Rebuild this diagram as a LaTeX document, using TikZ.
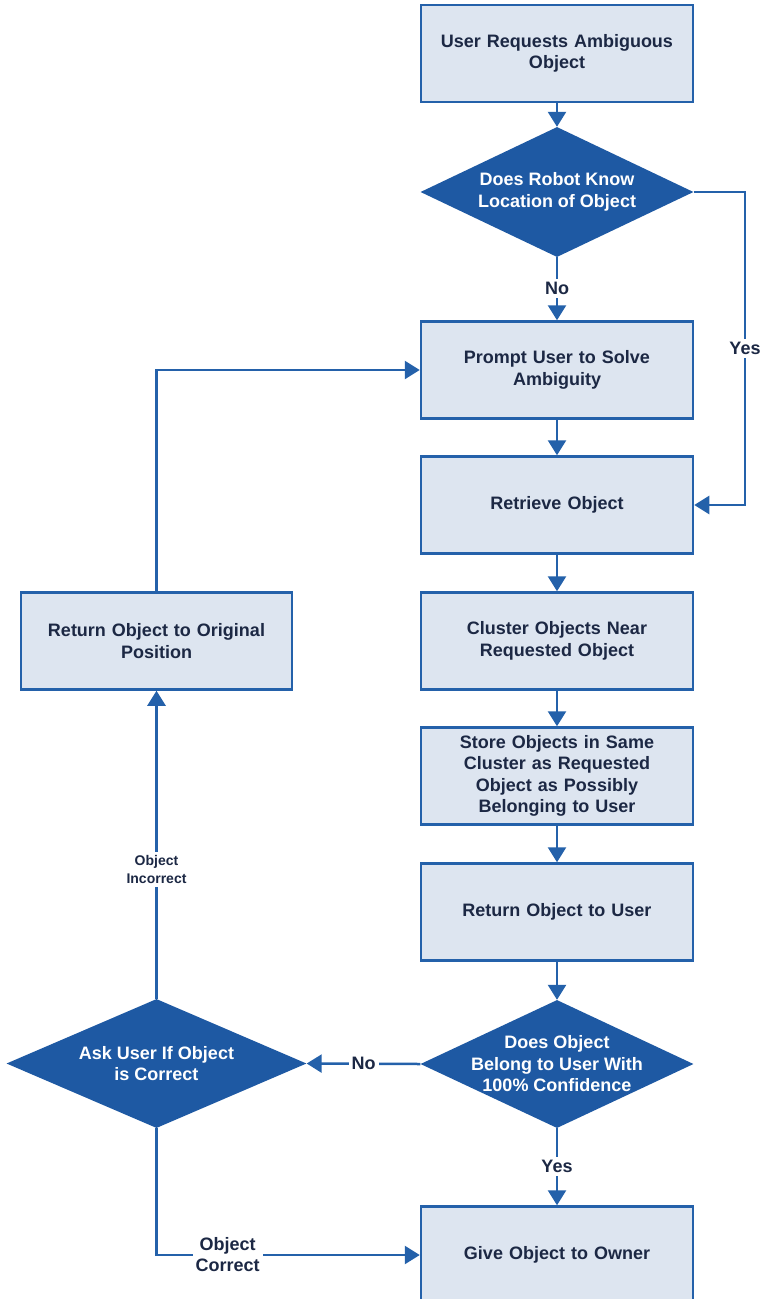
\documentclass[tikz,border=0pt]{standalone}
\usepackage{fontspec}
\setmainfont{Liberation Sans}
\usetikzlibrary{arrows.meta,shapes.geometric}

\definecolor{flowblue}{RGB}{36,97,170}
\definecolor{decblue}{RGB}{30,89,163}
\definecolor{boxfill}{RGB}{221,229,240}
\definecolor{navytext}{RGB}{28,40,68}

\tikzset{
  stepbox/.style={draw=flowblue, line width=2.5pt, fill=boxfill,
    minimum width=272pt, minimum height=97pt, text width=250pt, align=center,
    text=navytext, font=\bfseries\fontsize{18}{21.5}\selectfont, inner sep=0pt},
  decision/.style={diamond, draw=none, fill=decblue, inner sep=0pt},
  dectext/.style={text=white, align=center, font=\bfseries\fontsize{18}{21.5}\selectfont},
  flow/.style={draw=flowblue, line width=2.5pt,
    -{Triangle[width=18pt,length=15pt]}},
  lbl/.style={fill=white, text=navytext, align=center, inner sep=3pt,
    font=\bfseries\fontsize{18}{21}\selectfont},
  smalllbl/.style={fill=white, text=navytext, align=center, inner sep=3pt,
    font=\bfseries\fontsize{14}{18}\selectfont},
}

\begin{document}
\begin{tikzpicture}[x=1pt, y=-1pt]
  \useasboundingbox[fill=white] (0,0) rectangle (763,1299);

  % main column
  \node[stepbox] (b1) at (557,53.5) {User Requests Ambiguous\\Object};
  \node[decision, minimum width=273pt, minimum height=130pt] (d1) at (557,192) {};
  \node[dectext] at (d1) {Does Robot Know\\Location of Object};
  \node[stepbox] (b2) at (557,370) {Prompt User to Solve\\Ambiguity};
  \node[stepbox] (b3) at (557,505) {Retrieve Object};
  \node[stepbox] (b4) at (557,641) {Cluster Objects Near\\Requested Object};
  \node[stepbox] (b5) at (557,776) {Store Objects in Same\\Cluster as Requested\\Object as Possibly\\Belonging to User};
  \node[stepbox] (b6) at (557,912) {Return Object to User};
  \node[decision, minimum width=273pt, minimum height=128pt] (d2) at (557,1064) {};
  \node[dectext] at (d2) {Does Object\\Belong to User With\\100\% Confidence};
  \node[stepbox] (b7) at (557,1255) {Give Object to Owner};

  % side column
  \node[stepbox, minimum width=271pt] (bl) at (156.5,641) {Return Object to Original\\Position};
  \node[decision, minimum width=300pt, minimum height=129pt] (dl) at (156.5,1063.5) {};
  \node[dectext] at (dl) {Ask User If Object\\is Correct};

  % bend points
  \coordinate (yc) at (745,192);
  \coordinate (yd) at (745,505);
  \coordinate (lc) at (156.5,370);
  \coordinate (cc) at (156.5,1255);

  % connectors
  \draw[flow] (b1) -- (d1.north);
  \draw[flow] (d1.south) -- node[lbl]{No} (b2.north);
  \draw[flow] (d1.east) -- (yc) -- node[lbl]{Yes} (yd) -- (b3.east);
  \draw[flow] (b2) -- (b3);
  \draw[flow] (b3) -- (b4);
  \draw[flow] (b4) -- (b5);
  \draw[flow] (b5) -- (b6);
  \draw[flow] (b6) -- (d2.north);
  \draw[flow] (d2.south) -- node[lbl]{Yes} (b7.north);
  \draw[flow] (d2.west) -- node[lbl]{No} (dl.east);
  \draw[flow] (dl.north) -- node[smalllbl, pos=0.42]{Object\\Incorrect} (bl.south);
  \draw[flow] (bl.north) -- (lc) -- (b2.west);
  \draw[flow] (dl.south) -- (cc) -- node[lbl, pos=0.27]{Object\\Correct} (b7.west);
\end{tikzpicture}
\end{document}
